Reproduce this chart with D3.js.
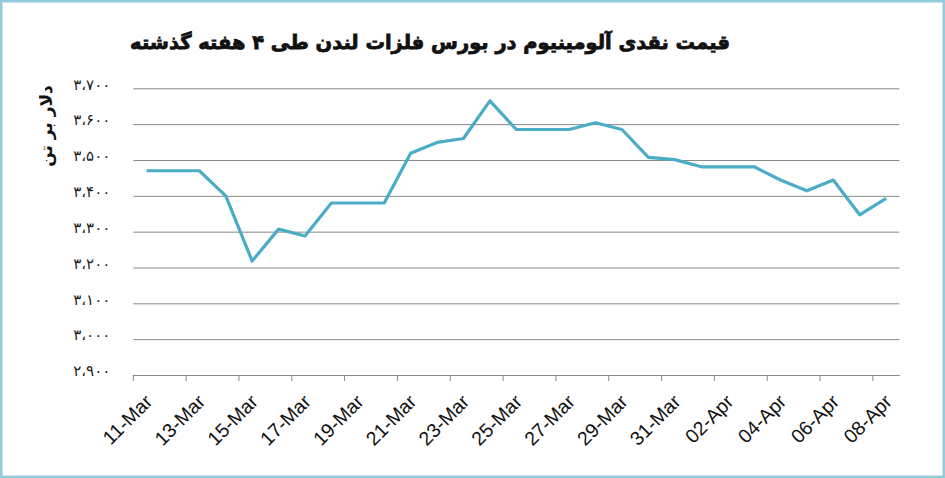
<!DOCTYPE html>
<html lang="fa">
<head>
    <meta charset="UTF-8">
    <title>قیمت نقدی آلومینیوم</title>
    <script src="https://cdn.jsdelivr.net/npm/d3@7/dist/d3.min.js"></script>
    <style>
        body { margin: 0; background: #fff; }
        svg { display: block; }
    </style>
</head>
<body>
<svg width="945" height="478"></svg>
<script>
    // data
    var dates = ["11-Mar", "12-Mar", "13-Mar", "14-Mar", "15-Mar", "16-Mar", "17-Mar", "18-Mar",
        "19-Mar", "20-Mar", "21-Mar", "22-Mar", "23-Mar", "24-Mar", "25-Mar", "26-Mar", "27-Mar",
        "28-Mar", "29-Mar", "30-Mar", "31-Mar", "01-Apr", "02-Apr", "03-Apr", "04-Apr", "05-Apr",
        "06-Apr", "07-Apr", "08-Apr"];
    var prices = [3470, 3470, 3470, 3400, 3218, 3307, 3288, 3380, 3380, 3380, 3519, 3549, 3560,
        3665, 3585, 3585, 3585, 3604, 3585, 3507, 3501, 3481, 3481, 3481, 3444, 3414, 3444, 3347, 3393];
    var yTicks = [2900, 3000, 3100, 3200, 3300, 3400, 3500, 3600, 3700];
    var title = "قیمت نقدی آلومینیوم در بورس فلزات لندن طی ۴ هفته گذشته";
    var yTitle = "دلار بر تن";

    var svg = d3.select("svg");
    var width = +svg.attr("width");
    var height = +svg.attr("height");
    var plot = {left: 133.3, right: 899.3, top: 88.3, bottom: 375};

    // persian digits with arabic thousands separator
    function toFa(n) {
        var fa = "۰۱۲۳۴۵۶۷۸۹";
        return d3.format(",")(n).replace(/\d/g, function (c) { return fa[+c]; }).replace(/,/g, "،");
    }

    // outer frame
    svg.append("rect")
        .attr("x", 1.25).attr("y", 1.25)
        .attr("width", width - 2.5).attr("height", height - 2.5)
        .attr("fill", "#fff")
        .attr("stroke", "#93cddd")
        .attr("stroke-width", 2.5);

    var xScale = d3.scaleBand()
        .domain(dates)
        .range([plot.left, plot.right])
        .padding(0);
    var bw = xScale.bandwidth();

    var yScale = d3.scaleLinear()
        .domain([2900, 3700])
        .range([plot.bottom, plot.top]);

    // gridlines + y labels
    var yAxis = d3.axisLeft(yScale)
        .tickValues(yTicks)
        .tickSize(-(plot.right - plot.left))
        .tickPadding(23)
        .tickFormat(toFa);
    var gy = svg.append("g")
        .attr("transform", "translate(" + plot.left + ",0)")
        .call(yAxis);
    gy.select(".domain").remove();
    gy.selectAll(".tick line")
        .attr("stroke", "#868686")
        .attr("stroke-width", 1);
    gy.selectAll(".tick text")
        .attr("font-family", "DejaVu Sans")
        .attr("font-size", 15)
        .attr("fill", "#222")
        .attr("dy", "0.05em")
        .attr("direction", "ltr")
        .style("letter-spacing", "2px");

    // x axis: ticks on day boundaries every 2 days, labels at day centre
    var evenDates = dates.filter(function (d, i) { return i % 2 === 0; });
    var xAxis = d3.axisBottom(xScale)
        .tickValues(evenDates)
        .tickSize(6)
        .tickSizeOuter(0);
    var gx = svg.append("g")
        .attr("transform", "translate(0," + plot.bottom + ")")
        .call(xAxis);
    gx.select(".domain").attr("stroke", "#868686");
    gx.selectAll(".tick line")
        .attr("stroke", "#868686")
        .attr("x1", -bw / 2).attr("x2", -bw / 2);
    gx.selectAll(".tick text")
        .attr("font-family", "Liberation Sans, Arial, sans-serif")
        .attr("font-size", 19.5)
        .attr("fill", "#111")
        .attr("text-anchor", "end")
        .attr("y", 0)
        .attr("dy", 0)
        .attr("transform", "translate(7,28) rotate(-45)");

    // price line
    var line = d3.line()
        .x(function (d, i) { return xScale(dates[i]) + bw / 2; })
        .y(function (d) { return yScale(d); });
    svg.append("path")
        .datum(prices)
        .attr("d", line)
        .attr("fill", "none")
        .attr("stroke", "#4bacc6")
        .attr("stroke-width", 3.2)
        .attr("stroke-linejoin", "round");

    // title
    var t = svg.append("text")
        .attr("x", 430)
        .attr("y", 49)
        .attr("text-anchor", "middle")
        .attr("direction", "rtl")
        .attr("font-family", "DejaVu Sans")
        .attr("font-weight", "bold")
        .attr("font-size", 24)
        .attr("fill", "#111")
        .style("paint-order", "stroke")
        .attr("stroke", "#111")
        .attr("stroke-width", 0.8)
        .text(title);
    var tw = t.node().getComputedTextLength();
    if (tw > 0) t.attr("font-size", 24 * 600 / tw);

    // y axis title
    svg.append("text")
        .attr("transform", "translate(52,126) rotate(-90)")
        .attr("text-anchor", "middle")
        .attr("direction", "rtl")
        .attr("font-family", "DejaVu Sans")
        .attr("font-weight", "bold")
        .attr("font-size", 17)
        .attr("fill", "#111")
        .text(yTitle);
</script>
</body>
</html>
